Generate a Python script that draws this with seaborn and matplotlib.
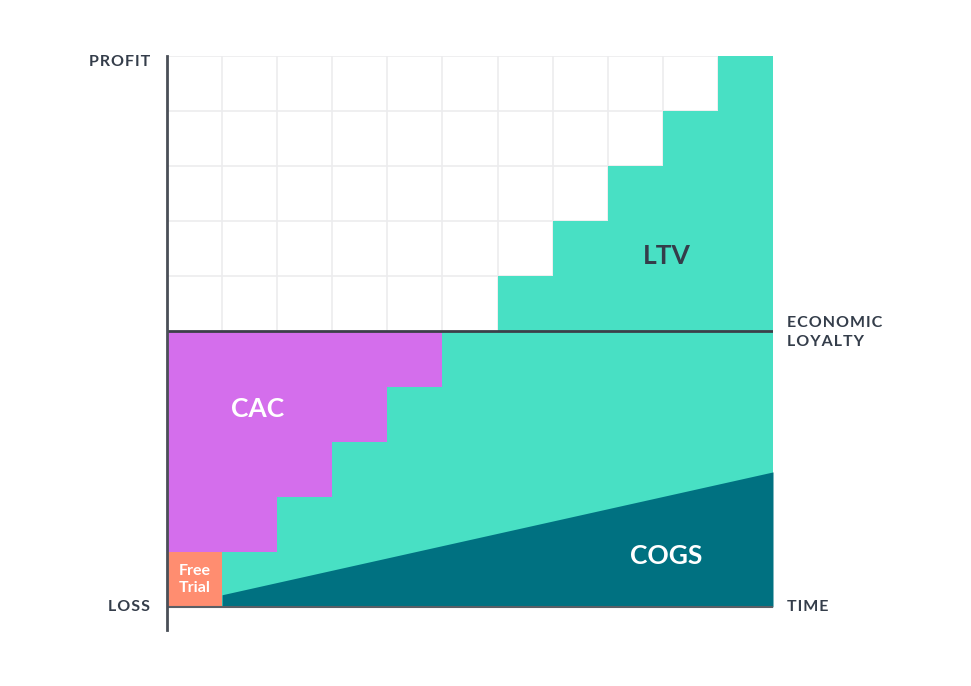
"""
Customer economics staircase: free trial, CAC, COGS and LTV over time.
"""

import matplotlib.pyplot as plt
import numpy as np
import pandas as pd
import seaborn as sns

# ── Data (grid units: x = time periods, y = loss 0 -> profit 10) ─────────────
x_edges = list(range(12))                       # column edges 0..11
ltv_top = [5, 5, 5, 5, 5, 5, 6, 7, 8, 9, 10]    # top of teal per column
cac_cols = [0, 1, 2, 3, 4]
cac_bottom = [1, 1, 2, 3, 4]                    # purple spans bottom -> breakeven
breakeven = 5
trial_x = [0, 1]
trial_top = 1
cogs_x = [1, 11]
cogs_top = [0.22, 2.45]

TEAL = "#48E0C4"
PURPLE = "#D46EEC"
SALMON = "#FF8D70"
DARK_TEAL = "#007181"
INK = "#343D4A"
GRID = "#ECECEE"

sns.set_style("white")
plt.rcParams["font.family"] = ["Lato", "DejaVu Sans"]


def tracked(s):
    # poor man's letter spacing: hair space between letters
    return "\n".join("\u200a".join(line) for line in s.split("\n"))


fig = plt.figure(figsize=(9.71, 6.86), dpi=100)
ax = fig.add_axes([167 / 971, 56 / 686, 606 / 971, (630 - 56) / 686])

# teal base: everything under the LTV staircase
ltv_step = ltv_top + [ltv_top[-1]]
ax.fill_between(x_edges, 0, ltv_step, step="post", color=TEAL, lw=0, zorder=2)

# CAC staircase
cac_df = pd.DataFrame({"col": cac_cols, "bottom": cac_bottom})
for _, row in cac_df.iterrows():
    ax.fill_between([row["col"], row["col"] + 1], row["bottom"], breakeven,
                    color=PURPLE, lw=0, zorder=3)

# free trial block
ax.fill_between(trial_x, 0, trial_top, color=SALMON, lw=0, zorder=3)

# COGS wedge
ax.fill_between(cogs_x, 0, cogs_top, color=DARK_TEAL, lw=0, zorder=3)

# light grid in the white area
for xv in x_edges[1:-1]:
    ax.plot([xv, xv], [breakeven, 10], color=GRID, lw=1.2, zorder=1)
for yv in range(breakeven + 1, 11):
    ax.plot([0, 11], [yv, yv], color=GRID, lw=1.2, zorder=1)

# reference lines
ax.plot([0, 11], [breakeven, breakeven], color="#3B4049", lw=2, zorder=4)
ax.plot([0, 11], [0, 0], color="#5A5F66", lw=1.5, zorder=4)

ax.set_xlim(0, 11)
ax.set_ylim(-0.42, 10)
ax.set_xticks([])
ax.set_yticks([])
for side in ["top", "right", "bottom"]:
    ax.spines[side].set_visible(False)
ax.spines["left"].set_color("#4A4F57")
ax.spines["left"].set_linewidth(2)
ax.spines["left"].set_zorder(5)

# ── Labels ────────────────────────────────────────────────────────────────
side_kw = dict(color=INK, fontsize=11.5, fontweight="bold", clip_on=False)
ax.text(-0.31, 9.89, tracked("PROFIT"), ha="right", va="center", **side_kw)
ax.text(-0.31, 0.0, tracked("LOSS"), ha="right", va="center", **side_kw)
ax.text(11.25, 4.98, tracked("ECONOMIC\nLOYALTY"), ha="left", va="center",
        linespacing=1.4, **side_kw)
ax.text(11.25, 0.0, tracked("TIME"), ha="left", va="center", **side_kw)

big_kw = dict(fontsize=19, fontweight="bold", ha="center", va="center", zorder=6)
ax.text(9.07, 6.37, "LTV", color=INK, **big_kw)
ax.text(1.65, 3.59, "CAC", color="white", **big_kw)
ax.text(9.07, 0.93, "COGS", color="white", **big_kw)
ax.text(0.5, 0.49, "Free\nTrial", color="white", fontsize=11.5, fontweight="bold",
        ha="center", va="center", linespacing=1.25, zorder=6)

plt.savefig("out.png", dpi=100)
plt.close()
